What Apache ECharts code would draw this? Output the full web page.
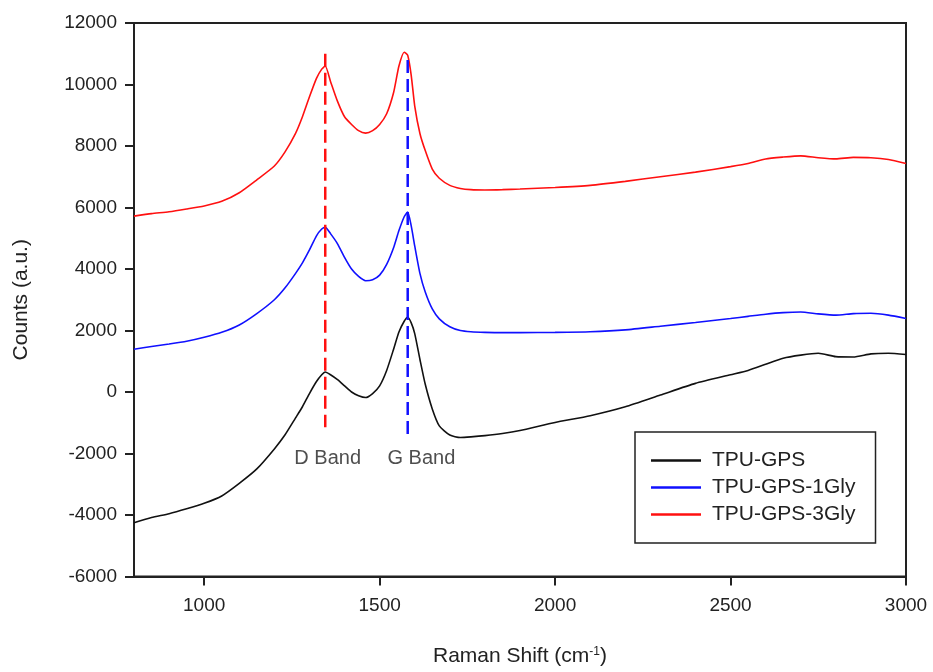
<!DOCTYPE html>
<html>
<head>
<meta charset="utf-8">
<script src="https://cdn.jsdelivr.net/npm/echarts@6/dist/echarts.min.js"></script>
<style>
html,body{margin:0;padding:0;background:#fff;}
#chart{width:933px;height:672px;}
</style>
</head>
<body>
<div id="chart"></div>
<script>
// Raman shift (cm^-1) sample positions
const ramanShift = [800, 850, 900, 950, 1000, 1050, 1100, 1150, 1200, 1230, 1260, 1280, 1300, 1320, 1335, 1345, 1360, 1380, 1400, 1420, 1440, 1460, 1480, 1500, 1520, 1540, 1555, 1570, 1580, 1590, 1600, 1615, 1630, 1650, 1670, 1700, 1730, 1760, 1800, 1850, 1900, 2000, 2100, 2200, 2300, 2400, 2500, 2550, 2600, 2650, 2700, 2750, 2800, 2850, 2900, 2950, 3000];

const tpuGps = [-4250, -4080, -3960, -3800, -3620, -3380, -2970, -2500, -1850, -1400, -850, -480, -50, 340, 560, 650, 560, 400, 200, 0, -120, -180, -50, 200, 700, 1400, 1950, 2300, 2430, 2250, 1900, 1050, 250, -550, -1100, -1400, -1480, -1460, -1420, -1350, -1250, -990, -770, -480, -100, 280, 560, 700, 900, 1100, 1200, 1260, 1150, 1140, 1240, 1260, 1220];

const tpuGps1Gly = [1390, 1480, 1560, 1650, 1780, 1940, 2180, 2550, 3000, 3380, 3850, 4200, 4620, 5080, 5300, 5360, 5150, 4820, 4380, 4000, 3760, 3620, 3650, 3800, 4150, 4700, 5250, 5700, 5850, 5400, 4750, 3850, 3250, 2700, 2380, 2120, 2000, 1960, 1940, 1930, 1930, 1940, 1960, 2020, 2140, 2260, 2390, 2460, 2530, 2580, 2600, 2540, 2500, 2550, 2560, 2500, 2390];

const tpuGps3Gly = [5720, 5800, 5860, 5950, 6050, 6200, 6480, 6900, 7350, 7800, 8400, 8950, 9600, 10200, 10500, 10600, 10100, 9450, 8950, 8700, 8500, 8420, 8500, 8700, 9050, 9750, 10600, 11050, 10950, 10300, 9300, 8400, 7850, 7250, 6950, 6720, 6620, 6580, 6570, 6580, 6600, 6650, 6720, 6850, 7000, 7150, 7330, 7430, 7580, 7640, 7680, 7620, 7580, 7630, 7620, 7560, 7430];

const seriesNames = ['TPU-GPS', 'TPU-GPS-1Gly', 'TPU-GPS-3Gly'];

// Band marker lines: [shift, top, bottom]
const dBandLine = [1345, 11000, -1150];
const gBandLine = [1580, 10800, -1400];
const bandLabels = ['D Band', 'G Band'];
const bandLabelShift = [1352, 1619];
const bandLabelCounts = [-2150, -2150];

const xTicks = [1000, 1500, 2000, 2500, 3000];

function pairs(ys) { return ramanShift.map((x, i) => [x, ys[i]]); }

const chart = echarts.init(document.getElementById('chart'));
const font = 'Arial, "Liberation Sans", sans-serif';
const curveColors = ['#111111', '#1010ff', '#ff1010'];
const curveData = [tpuGps, tpuGps1Gly, tpuGps3Gly];

const series = curveData.map((d, i) => ({
  name: seriesNames[i],
  type: 'line',
  data: pairs(d),
  symbol: 'none',
  smooth: 0.2,
  lineStyle: { color: curveColors[i], width: 1.6 },
  itemStyle: { color: curveColors[i] },
  z: 2
}));

series.push({
  type: 'line', silent: true, symbol: 'none',
  data: [[dBandLine[0], dBandLine[1]], [dBandLine[0], dBandLine[2]]],
  lineStyle: { color: '#ff1010', width: 2.5, type: [13, 6] }, z: 3
});
series.push({
  type: 'line', silent: true, symbol: 'none',
  data: [[gBandLine[0], gBandLine[1]], [gBandLine[0], gBandLine[2]]],
  lineStyle: { color: '#1010ff', width: 2.5, type: [13, 6] }, z: 3
});
series.push({
  type: 'scatter', silent: true, symbolSize: 0,
  data: bandLabels.map((n, i) => ({ name: n, value: [bandLabelShift[i], bandLabelCounts[i]] })),
  label: { show: true, position: 'inside', formatter: p => p.name, color: '#222', fontSize: 20, fontFamily: font }
});

chart.setOption({
  animation: false,
  backgroundColor: '#fff',
  grid: { left: 134, right: 27, top: 23, bottom: 95, show: true, borderColor: '#222', borderWidth: 2, backgroundColor: 'transparent' },
  legend: {
    data: seriesNames,
    orient: 'vertical',
    left: 635, top: 432,
    padding: [18, 20, 18, 16],
    icon: 'rect',
    itemWidth: 50, itemHeight: 2.5, itemGap: 6,
    borderColor: '#222', borderWidth: 1.5, backgroundColor: '#fff',
    textStyle: { fontSize: 21, fontFamily: font, color: '#222', lineHeight: 21, padding: [0, 0, 0, 6] }
  },
  xAxis: {
    type: 'value', min: 800, max: 3000,
    name: 'Raman Shift (cm{sup|-1})',
    nameLocation: 'middle', nameGap: 69,
    nameTextStyle: { fontSize: 21, fontFamily: font, color: '#222', rich: { sup: { fontSize: 12, verticalAlign: 'top', padding: [0, 0, 10, 0], fontFamily: font, color: '#222' } } },
    axisLine: { onZero: false, lineStyle: { color: '#222', width: 2 } },
    axisTick: { show: true, inside: false, length: 9, lineStyle: { color: '#222', width: 2 }, customValues: xTicks },
    axisLabel: { customValues: xTicks, margin: 20, fontSize: 19, fontFamily: font, color: '#222', formatter: v => String(v) },
    splitLine: { show: false }
  },
  yAxis: {
    type: 'value', min: -6000, max: 12000, interval: 2000,
    name: 'Counts (a.u.)',
    nameLocation: 'middle', nameGap: 102,
    nameTextStyle: { fontSize: 21, fontFamily: font, color: '#222' },
    axisLine: { onZero: false, lineStyle: { color: '#222', width: 2 } },
    axisTick: { show: true, inside: false, length: 9, lineStyle: { color: '#222', width: 2 } },
    axisLabel: { margin: 17, fontSize: 19, fontFamily: font, color: '#222', formatter: v => String(v) },
    splitLine: { show: false }
  },
  series: series
});
</script>
</body>
</html>
